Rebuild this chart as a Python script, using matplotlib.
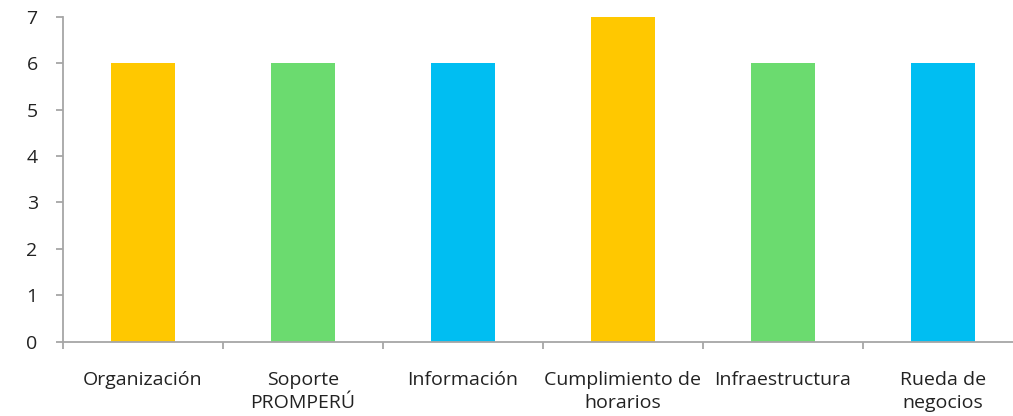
import matplotlib.pyplot as plt

categorias = ["Organización", "Soporte\nPROMPERÚ", "Información",
              "Cumplimiento de\nhorarios", "Infraestructura", "Rueda de\nnegocios"]
valores = [6, 6, 6, 7, 6, 6]
colores = ["#FFC800", "#6BDB6F", "#00BEF2", "#FFC800", "#6BDB6F", "#00BEF2"]

plt.rcParams["font.family"] = ["Open Sans", "DejaVu Sans"]

fig = plt.figure(figsize=(10.13, 4.16), dpi=100)
# axis runs past the right edge of the figure
ax = fig.add_axes([62.7 / 1013, (416 - 341.7) / 416, 960 / 1013, 325 / 416])

x = range(len(categorias))
ax.bar(x, valores, width=0.4, color=colores, zorder=2)

ax.set_xlim(-0.5, len(categorias) - 0.5)
ax.set_ylim(0, 7)
ax.set_yticks(range(0, 8))
ax.set_xticks([i - 0.5 for i in range(len(categorias) + 1)])
ax.set_xticklabels([])
ax.set_xticks(list(x), minor=True)
ax.set_xticklabels(categorias, minor=True, fontsize=14, color="#222222",
                   linespacing=1.35)

for s in ["top", "right"]:
    ax.spines[s].set_visible(False)
for s in ["left", "bottom"]:
    ax.spines[s].set_color("#A6A6A6")
    ax.spines[s].set_linewidth(1.3)

ax.tick_params(axis="y", length=5, width=1.3, color="#A6A6A6",
               labelsize=14, labelcolor="#222222", pad=13)
ax.tick_params(axis="x", which="major", length=5, width=1.3, color="#A6A6A6")
ax.tick_params(axis="x", which="minor", length=0, pad=21)

fig.savefig("out.png", dpi=100)
